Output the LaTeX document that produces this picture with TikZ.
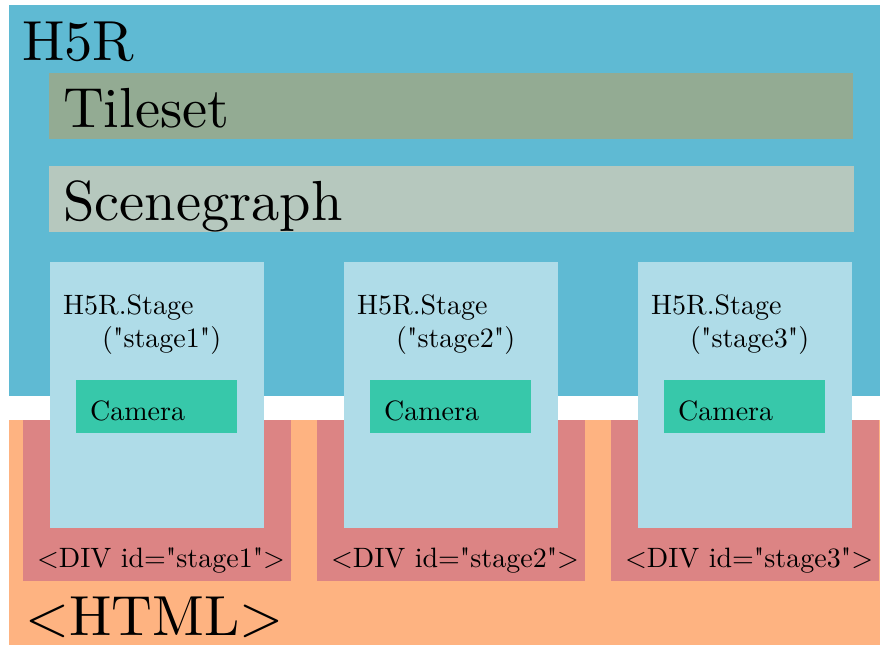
\documentclass[tikz,border=0pt]{standalone}
\usepackage{fontspec}
\setmainfont{lmroman10-regular}[Extension=.otf, Ligatures=TeXOff]
\definecolor{hblue}{HTML}{5FBAD3}
\definecolor{tilec}{HTML}{93AB93}
\definecolor{scenec}{HTML}{B6C8BE}
\definecolor{stagec}{HTML}{AFDCE8}
\definecolor{camc}{HTML}{37C8AA}
\definecolor{divc}{HTML}{DC8484}
\definecolor{htmlc}{HTML}{FEB381}
\tikzset{
  big/.style={anchor=base west, inner sep=0pt, font=\fontsize{56.5}{62}\selectfont},
  small/.style={anchor=base west, inner sep=0pt, font=\fontsize{28}{33}\selectfont},
}
\begin{document}
\begin{tikzpicture}[x=1pt,y=-1pt]
\useasboundingbox (0,0) rectangle (880,645);
\fill[white] (0,0) rectangle (880,645);
% H5R area
\fill[hblue] (9,5) rectangle (880,396);
% HTML area
\fill[htmlc] (9,420) rectangle (880,645);
% DIVs, stages, cameras
\foreach \i in {0,1,2}{
  \fill[divc] ({23+294*\i},420) rectangle ({291+294*\i},581);
  \fill[stagec] ({50+294*\i},262) rectangle ({264+294*\i},528);
  \fill[camc] ({76+294*\i},380) rectangle ({237+294*\i},433);
}
\fill[tilec] (49,73) rectangle (853,139);
\fill[scenec] (49,166) rectangle (854,232);
% texts
\node[big] (h5r) at (22,60) {H5R};
\node[big] (tile) at (63,127) {Tileset};
\node[big] (scene) at (63,220) {Scenegraph};
\node[big] (html) at (25,635) {<HTML>};
\node[small] (st1) at (63,314) {H5R.Stage};
\node[small] (st2) at (357,314) {H5R.Stage};
\node[small] (st3) at (651,314) {H5R.Stage};
\node[small] (id1) at (102,347) {("stage1")};
\node[small] (id2) at (396,347) {("stage2")};
\node[small] (id3) at (690,347) {("stage3")};
\node[small] (cam1) at (90,420) {Camera};
\node[small] (cam2) at (384,420) {Camera};
\node[small] (cam3) at (678,420) {Camera};
\node[small] (div1) at (37,567) {<DIV id="stage1">};
\node[small] (div2) at (331,567) {<DIV id="stage2">};
\node[small] (div3) at (625,567) {<DIV id="stage3">};
\end{tikzpicture}
\end{document}
